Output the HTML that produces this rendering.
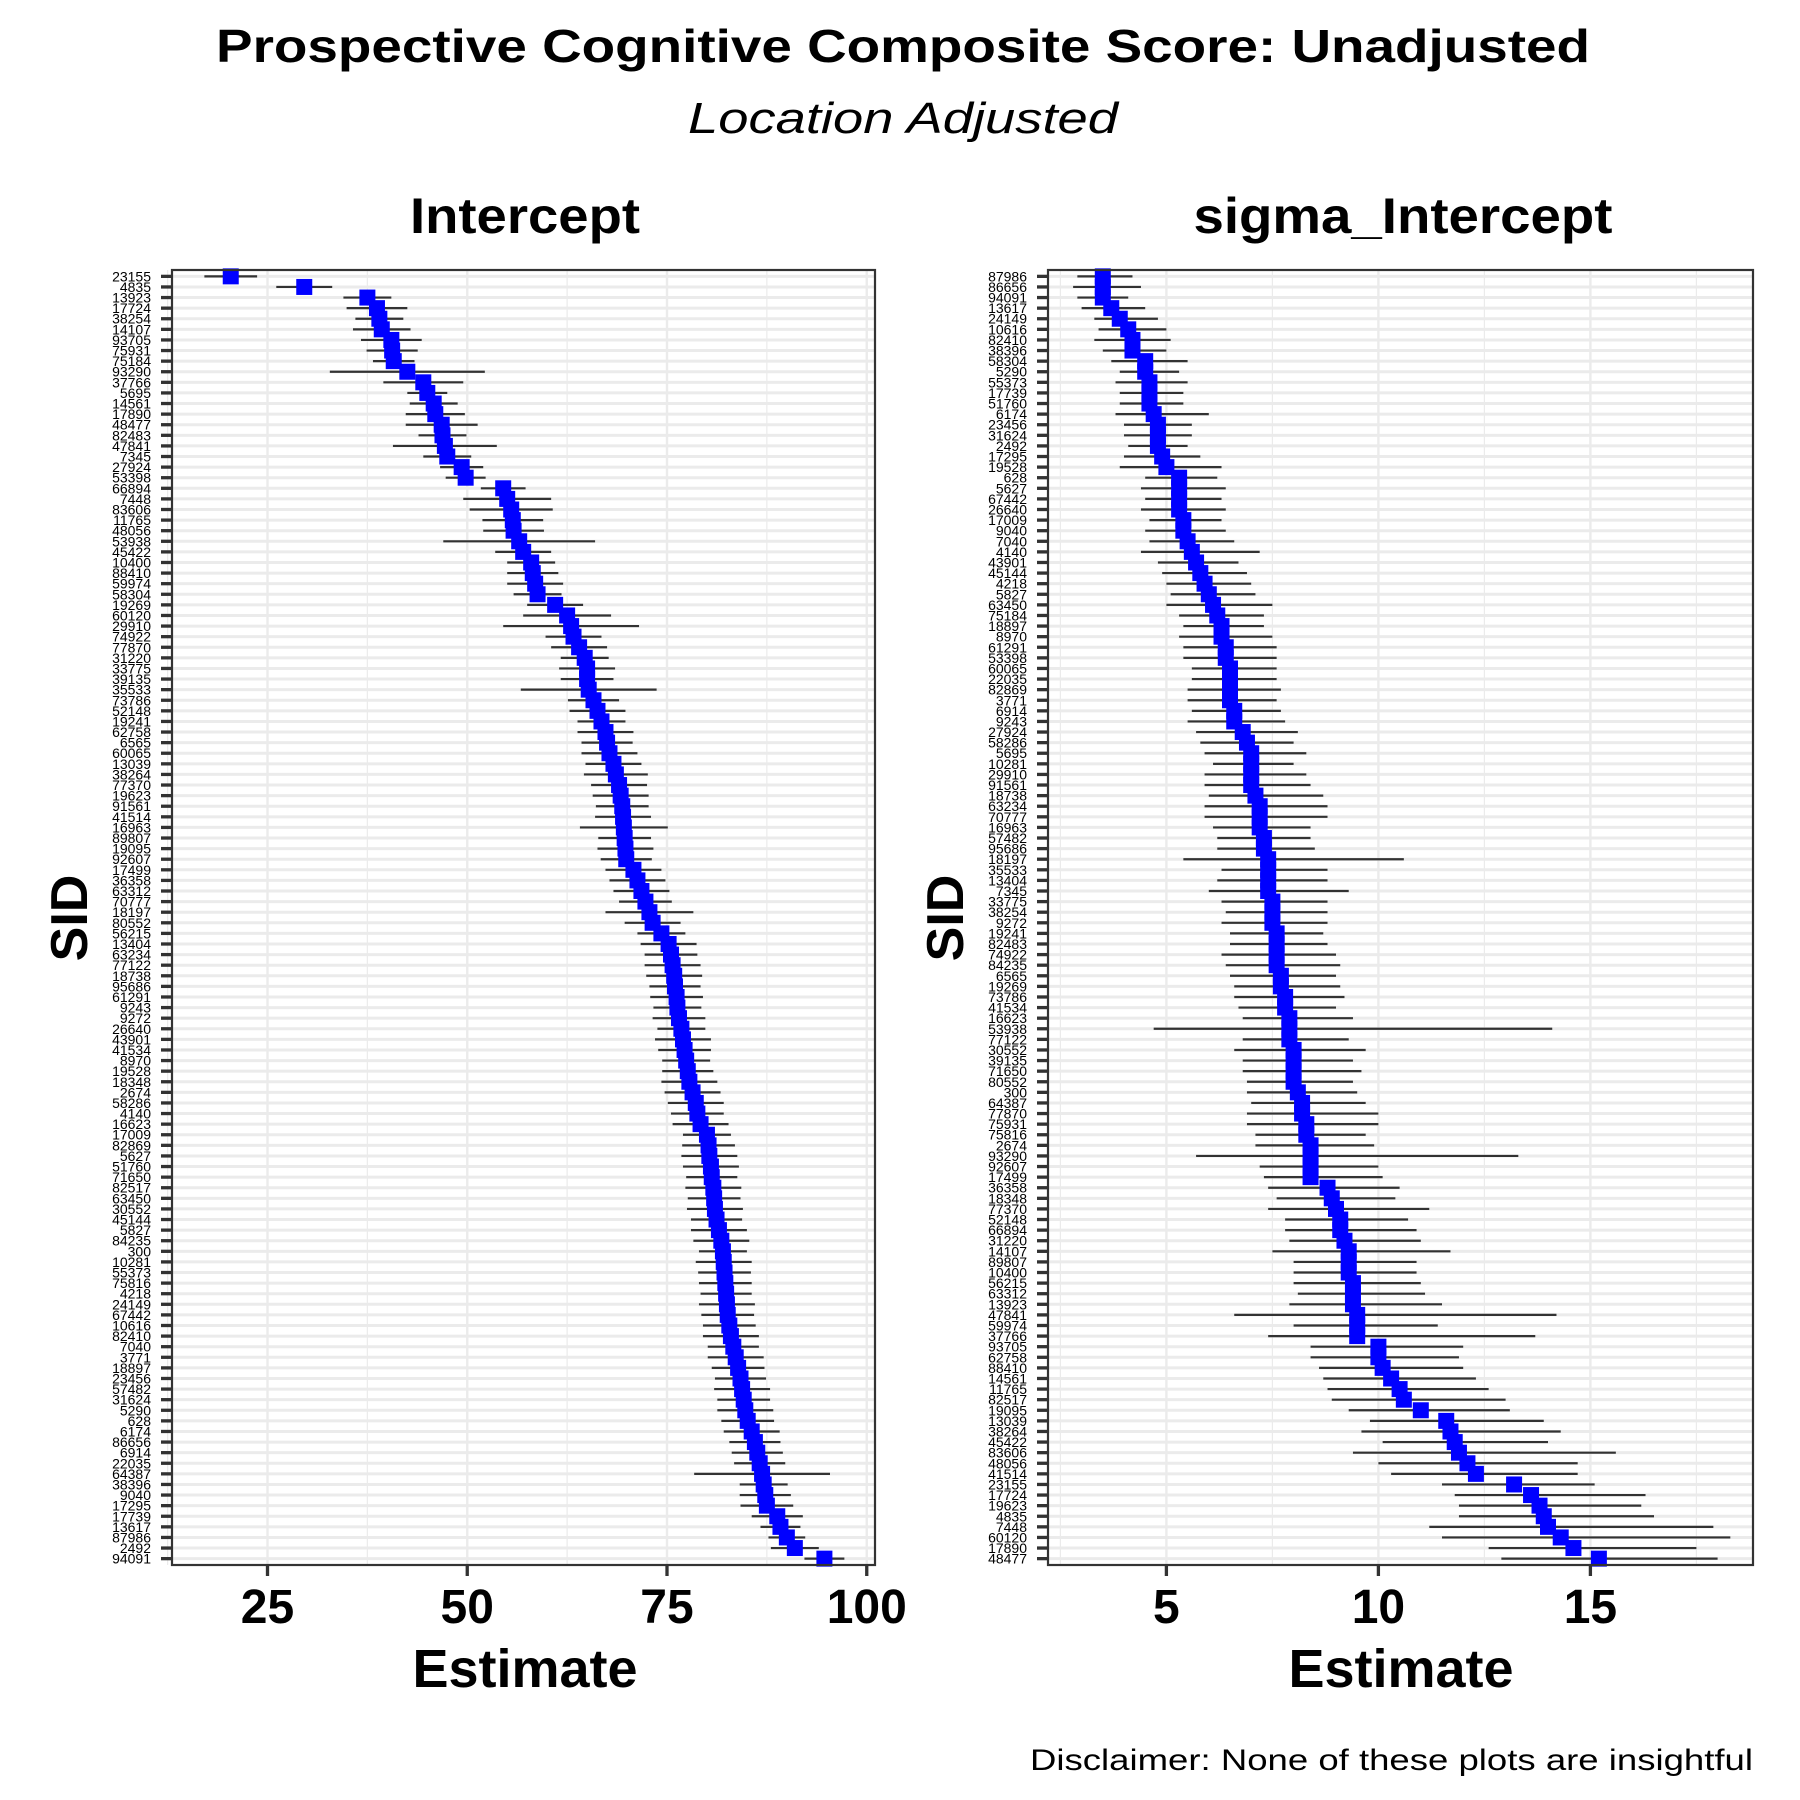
<!DOCTYPE html>
<html><head><meta charset="utf-8"><style>
html,body{margin:0;padding:0;background:#fff}
svg{display:block;font-family:"Liberation Sans",Arial,sans-serif}
</style></head><body>
<svg id="chart" width="1800" height="1800" viewBox="0 0 1800 1800" xmlns="http://www.w3.org/2000/svg">
<text x="903" y="62" text-anchor="middle" font-size="46" font-weight="bold" textLength="1374" lengthAdjust="spacingAndGlyphs">Prospective Cognitive Composite Score: Unadjusted</text>
<text x="903" y="133" text-anchor="middle" font-size="44" font-style="italic" textLength="430" lengthAdjust="spacingAndGlyphs">Location Adjusted</text>
<text x="525" y="233" text-anchor="middle" font-size="50" font-weight="bold" textLength="230" lengthAdjust="spacingAndGlyphs">Intercept</text>
<text x="1403" y="233" text-anchor="middle" font-size="50" font-weight="bold" textLength="419" lengthAdjust="spacingAndGlyphs">sigma_Intercept</text>
<text transform="translate(87,918) rotate(-90)" text-anchor="middle" font-size="52" font-weight="bold">SID</text>
<text transform="translate(963,918) rotate(-90)" text-anchor="middle" font-size="52" font-weight="bold">SID</text>
<text x="525" y="1687" text-anchor="middle" font-size="54" font-weight="bold">Estimate</text>
<text x="1401" y="1687" text-anchor="middle" font-size="54" font-weight="bold">Estimate</text>
<text x="1753" y="1770" text-anchor="end" font-size="30" textLength="723" lengthAdjust="spacingAndGlyphs">Disclaimer: None of these plots are insightful</text>
<g id="left"></g>
<g id="right"></g>
</svg>
<script>
const leftIds=["23155","4835","13923","17724","38254","14107","93705","75931","75184","93290","37766","5695","14561","17890","48477","82483","47841","7345","27924","53398","66894","7448","83606","11765","48056","53938","45422","10400","88410","59974","58304","19269","60120","29910","74922","77870","31220","33775","39135","35533","73786","52148","19241","62758","6565","60065","13039","38264","77370","19623","91561","41514","16963","89807","19095","92607","17499","36358","63312","70777","18197","80552","56215","13404","63234","77122","18738","95686","61291","9243","9272","26640","43901","41534","8970","19528","18348","2674","58286","4140","16623","17009","82869","5627","51760","71650","82517","63450","30552","45144","5827","84235","300","10281","55373","75816","4218","24149","67442","10616","82410","7040","3771","18897","23456","57482","31624","5290","628","6174","86656","6914","22035","64387","38396","9040","17295","17739","13617","87986","2492","94091"];
const leftEst=[20.4,29.6,37.5,38.7,39,39.3,40.5,40.6,40.8,42.5,44.5,45,45.8,46,46.8,46.9,47.2,47.5,49.3,49.8,54.5,55,55.5,55.7,55.8,56.5,57,58,58.2,58.5,58.8,61,62.5,63,63.3,64,64.7,65,65,65.2,65.8,66.3,66.8,67.3,67.5,67.8,68.3,68.6,69,69.2,69.4,69.5,69.6,69.7,69.8,69.9,70.8,71.3,71.8,72.3,72.8,73.2,74.3,75.2,75.5,75.7,75.9,76,76.2,76.3,76.5,76.8,77,77.2,77.4,77.6,77.8,78.2,78.6,78.8,79.2,80,80.2,80.3,80.5,80.6,80.8,80.9,81,81.2,81.5,81.8,82,82.1,82.2,82.3,82.4,82.5,82.6,82.8,83,83.3,83.6,83.9,84.2,84.4,84.6,84.8,85.1,85.6,86,86.3,86.6,86.9,87.1,87.3,87.5,88.8,89.2,90,91,94.7];
const leftErr=[3.3,3.5,3,3.8,3,3.6,3.8,3.2,2.6,9.7,5,2.5,3,3.7,4.5,3,6.5,3,2.7,2.5,2.8,5.5,5.2,3.8,3.8,9.5,3.5,3,3.2,3.5,3,3.5,5.5,8.5,3.5,3.5,3,3.5,3.3,8.5,3.2,3.5,3,3.5,3.2,3.5,3.5,4,3.5,3.5,3.3,3.5,5.5,3.3,3.5,3.2,3.5,3.5,3.5,3.3,5.5,3.5,3,3.5,3.3,3.5,3.5,3.2,3.3,3,3.3,3,3.5,3.3,3,3.2,3.5,3.5,3.5,3.3,3.5,3,3.3,3.5,3.5,3.2,3.5,3.3,3.5,3.2,3.5,3.5,3,3.5,3.3,3.3,3.2,3.5,3.3,3.3,3.5,3.2,3.5,3.3,3.2,3.5,3.3,3.5,3.3,3.5,3.2,3.2,3.2,8.5,3,3.2,3.3,3.2,2.5,2.3,3,2.5];
const rightIds=["87986","86656","94091","13617","24149","10616","82410","38396","58304","5290","55373","17739","51760","6174","23456","31624","2492","17295","19528","628","5627","67442","26640","17009","9040","7040","4140","43901","45144","4218","5827","63450","75184","18897","8970","61291","53398","60065","22035","82869","3771","6914","9243","27924","58286","5695","10281","29910","91561","18738","63234","70777","16963","57482","95686","18197","35533","13404","7345","33775","38254","9272","19241","82483","74922","84235","6565","19269","73786","41534","16623","53938","77122","30552","39135","71650","80552","300","64387","77870","75931","75816","2674","93290","92607","17499","36358","18348","77370","52148","66894","31220","14107","89807","10400","56215","63312","13923","47841","59974","37766","93705","62758","88410","14561","11765","82517","19095","13039","38264","45422","83606","48056","41514","23155","17724","19623","4835","7448","60120","17890","48477"];
const rightEst=[3.5,3.5,3.5,3.7,3.9,4.1,4.2,4.2,4.5,4.5,4.6,4.6,4.6,4.7,4.8,4.8,4.8,4.9,5.0,5.3,5.3,5.3,5.3,5.4,5.4,5.5,5.6,5.7,5.8,5.9,6.0,6.1,6.2,6.3,6.3,6.4,6.4,6.5,6.5,6.5,6.5,6.6,6.6,6.8,6.9,7.0,7.0,7.0,7.0,7.1,7.2,7.2,7.2,7.3,7.3,7.4,7.4,7.4,7.4,7.5,7.5,7.5,7.6,7.6,7.6,7.6,7.7,7.7,7.8,7.8,7.9,7.9,7.9,8.0,8.0,8.0,8.0,8.1,8.2,8.2,8.3,8.3,8.4,8.4,8.4,8.4,8.8,8.9,9.0,9.1,9.1,9.2,9.3,9.3,9.3,9.4,9.4,9.4,9.5,9.5,9.5,10.0,10.0,10.1,10.3,10.5,10.6,11.0,11.6,11.7,11.8,11.9,12.1,12.3,13.2,13.6,13.8,13.9,14.0,14.3,14.6,15.2];
const rightLo=[2.9,2.8,2.9,3.0,3.3,3.4,3.3,3.5,3.7,3.9,3.8,3.9,3.9,3.8,4.0,4.0,4.1,4.0,3.9,4.5,4.4,4.5,4.4,4.6,4.5,4.6,4.4,4.8,4.9,5.0,5.1,5.0,5.3,5.4,5.3,5.4,5.4,5.6,5.6,5.5,5.5,5.6,5.5,5.7,5.8,5.9,6.1,5.9,5.9,6.0,5.9,5.9,6.1,6.2,6.2,5.4,6.3,6.2,6.0,6.3,6.4,6.3,6.5,6.5,6.3,6.4,6.5,6.6,6.6,6.7,6.8,4.7,6.8,6.6,6.8,6.8,6.9,6.9,7.0,6.9,6.9,7.1,7.1,5.7,7.2,7.3,7.4,7.6,7.4,7.8,7.8,7.9,7.5,8.0,8.0,8.0,8.1,7.9,6.6,8.0,7.4,8.4,8.4,8.6,8.7,8.8,8.9,9.3,9.8,9.6,10.1,9.4,10.0,10.3,11.5,11.8,11.9,11.9,11.2,11.5,12.6,12.9];
const rightHi=[4.2,4.4,4.1,4.5,4.8,5.0,5.1,5.0,5.5,5.3,5.5,5.4,5.4,6.0,5.6,5.6,5.5,5.8,6.3,6.2,6.4,6.3,6.4,6.3,6.4,6.6,7.2,6.7,6.9,7.0,7.1,7.5,7.3,7.3,7.5,7.6,7.6,7.6,7.6,7.7,7.6,7.7,7.8,8.1,8.0,8.3,8.0,8.3,8.4,8.7,8.8,8.8,8.4,8.4,8.5,10.6,8.8,8.8,9.3,8.8,8.8,8.8,8.7,8.8,9.0,9.1,9.0,9.1,9.2,9.0,9.4,14.1,9.3,9.7,9.4,9.6,9.4,9.5,9.7,10.0,10.0,9.7,9.9,13.3,10.0,10.1,10.5,10.4,11.2,10.7,10.9,11.0,11.7,10.9,10.9,11.0,11.1,11.5,14.2,11.4,13.7,12.0,11.9,12.0,12.3,12.6,13.0,13.1,13.9,14.3,14.0,15.6,14.7,14.7,15.1,16.3,16.2,16.5,17.9,18.3,17.5,18.0];
const leftTicks=[25,50,75,100], leftMinor=[12.5,37.5,62.5,87.5];
const rightTicks=[5,10,15], rightMinor=[2.5,7.5,12.5,17.5];

const NS="http://www.w3.org/2000/svg";
function mk(parent,tag,attrs,txt){const e=document.createElementNS(NS,tag);for(const k in attrs)e.setAttribute(k,attrs[k]);if(txt!==undefined)e.textContent=txt;parent.appendChild(e);return e;}

function panel(g,cfg){
  const {L,R,T,B,v0,px0,ppu,ids,est,lo,hi,ticks,minor,prefix}=cfg;
  const xs=v=>px0+(v-v0)*ppu;
  const n=ids.length, step=(B-T)/(n-1+1.2);
  const ys=i=>T+(0.6+i)*step;
  mk(g,'rect',{x:L,y:T,width:R-L,height:B-T,fill:'#fff'});
  minor.forEach(v=>{const l=mk(g,'line',{x1:xs(v),x2:xs(v),y1:T,y2:B,stroke:'#ebebeb','stroke-width':1.2});
    
    });
  ticks.forEach(v=>{const l=mk(g,'line',{x1:xs(v),x2:xs(v),y1:T,y2:B,stroke:'#ebebeb','stroke-width':2.4});
    
    });
  ids.forEach((id,i)=>{const l=mk(g,'line',{x1:L,x2:R,y1:ys(i),y2:ys(i),stroke:'#ebebeb','stroke-width':3});
    
    });
  ids.forEach((id,i)=>{
    const y=ys(i);
    const eb=mk(g,'line',{x1:xs(lo[i]),x2:xs(hi[i]),y1:y,y2:y,stroke:'#333','stroke-width':2.2});
    
    
    const pt=mk(g,'rect',{x:xs(est[i])-8,y:y-8,width:16,height:16,fill:'#0000ff'});
    
    
    const tk=mk(g,'line',{x1:L-11,x2:L,y1:y,y2:y,stroke:'#333','stroke-width':3.3});
    
    
    const lb=mk(g,'text',{x:L-21,y:y+5,'text-anchor':'end','font-size':14,fill:'#000'},id);
    
    
  });
  const bd=mk(g,'rect',{x:L,y:T,width:R-L,height:B-T,fill:'none',stroke:'#333','stroke-width':2.2});
  
  
  ticks.forEach(v=>{
    const t=mk(g,'line',{x1:xs(v),x2:xs(v),y1:B,y2:B+11,stroke:'#333','stroke-width':3.3});
    
    
    const tl=mk(g,'text',{x:xs(v),y:1623,'text-anchor':'middle','font-size':48,'font-weight':'bold'},String(v));
    
    
  });
}
const le=leftEst.map((v,i)=>v-leftErr[i]), lh=leftEst.map((v,i)=>v+leftErr[i]);
panel(document.getElementById('left'),{L:172,R:875,T:270,B:1565,v0:25,px0:267.5,ppu:7.99,ids:leftIds,est:leftEst,lo:le,hi:lh,ticks:leftTicks,minor:leftMinor,prefix:'intercept'});
panel(document.getElementById('right'),{L:1048,R:1753,T:270,B:1565,v0:5,px0:1166.4,ppu:42.4,ids:rightIds,est:rightEst,lo:rightLo,hi:rightHi,ticks:rightTicks,minor:rightMinor,prefix:'sigma'});
</script>
</body></html>
